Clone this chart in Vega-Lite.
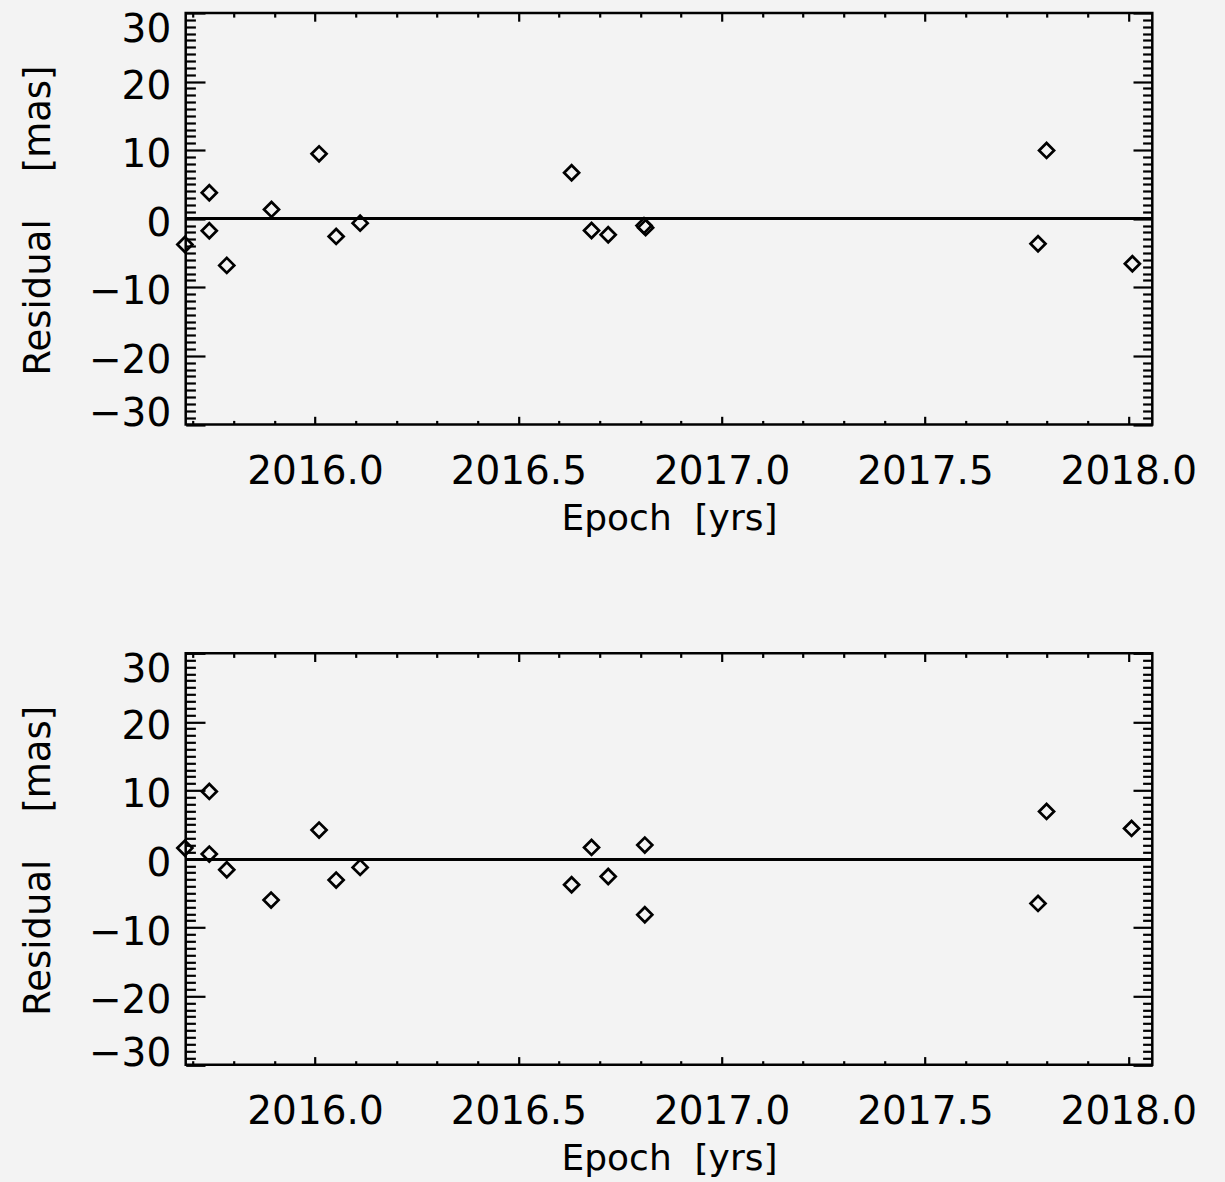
{
  "$schema": "https://vega.github.io/schema/vega-lite/v6.json",
  "background": "#f3f3f3",
  "padding": {"left": 18.7, "top": 4, "right": 40, "bottom": 30},
  "config": {
    "view": {"stroke": "#000000", "strokeWidth": 2.5},
    "font": "DejaVu Sans"
  },
  "data": {
    "values": [
      {"panel": "upper", "epoch": 2015.680, "residual": -3.75},
      {"panel": "upper", "epoch": 2015.740, "residual": 3.79},
      {"panel": "upper", "epoch": 2015.740, "residual": -1.75},
      {"panel": "upper", "epoch": 2015.783, "residual": -6.8},
      {"panel": "upper", "epoch": 2015.893, "residual": 1.36},
      {"panel": "upper", "epoch": 2016.010, "residual": 9.47},
      {"panel": "upper", "epoch": 2016.052, "residual": -2.58},
      {"panel": "upper", "epoch": 2016.111, "residual": -0.64},
      {"panel": "upper", "epoch": 2016.631, "residual": 6.71},
      {"panel": "upper", "epoch": 2016.680, "residual": -1.71},
      {"panel": "upper", "epoch": 2016.721, "residual": -2.33},
      {"panel": "upper", "epoch": 2016.809, "residual": -1.0},
      {"panel": "upper", "epoch": 2016.813, "residual": -1.3},
      {"panel": "upper", "epoch": 2017.778, "residual": -3.65},
      {"panel": "upper", "epoch": 2017.799, "residual": 9.96},
      {"panel": "upper", "epoch": 2018.010, "residual": -6.56},
      {"panel": "lower", "epoch": 2015.680, "residual": 1.6},
      {"panel": "lower", "epoch": 2015.740, "residual": 9.86},
      {"panel": "lower", "epoch": 2015.740, "residual": 0.73},
      {"panel": "lower", "epoch": 2015.783, "residual": -1.56},
      {"panel": "lower", "epoch": 2015.892, "residual": -5.98},
      {"panel": "lower", "epoch": 2016.010, "residual": 4.23},
      {"panel": "lower", "epoch": 2016.052, "residual": -3.06},
      {"panel": "lower", "epoch": 2016.111, "residual": -1.22},
      {"panel": "lower", "epoch": 2016.631, "residual": -3.75},
      {"panel": "lower", "epoch": 2016.680, "residual": 1.69},
      {"panel": "lower", "epoch": 2016.721, "residual": -2.54},
      {"panel": "lower", "epoch": 2016.811, "residual": 2.04},
      {"panel": "lower", "epoch": 2016.811, "residual": -8.12},
      {"panel": "lower", "epoch": 2017.778, "residual": -6.47},
      {"panel": "lower", "epoch": 2017.799, "residual": 6.94},
      {"panel": "lower", "epoch": 2018.008, "residual": 4.46}
    ]
  },
  "bounds": "flush",
  "spacing": 228.3,
  "vconcat": [
    {
      "width": 966.6,
      "height": 411.5,
      "transform": [{"filter": "datum.panel === 'upper'"}],
      "resolve": {"axis": {"x": "independent", "y": "independent"}},
      "layer": [
        {
          "mark": {"type": "point", "shape": "diamond", "filled": false, "stroke": "#000000", "strokeWidth": 2.7, "size": 225, "opacity": 1},
          "encoding": {
            "x": {
              "field": "epoch", "type": "quantitative",
              "scale": {"domain": [2015.682, 2018.059], "nice": false, "zero": false},
              "axis": {
                "orient": "bottom",
                "title": "Epoch\u00a0\u00a0[yrs]",
                "values": [2015.7, 2015.8, 2015.9, 2016.0, 2016.1, 2016.2, 2016.3, 2016.4, 2016.5, 2016.6, 2016.7, 2016.8, 2016.9, 2017.0, 2017.1, 2017.2, 2017.3, 2017.4, 2017.5, 2017.6, 2017.7, 2017.8, 2017.9, 2018.0],
                "format": ".1f",
                "labelExpr": "abs(datum.value * 2 - round(datum.value * 2)) < 0.01 ? datum.label : ''",
                "tickSize": {"condition": {"test": "abs(datum.value * 2 - round(datum.value * 2)) < 0.01", "value": -8.2}, "value": -4.1},
                "tickColor": "#000000", "tickWidth": 2.2,
                "domain": false, "grid": false,
                "labelPadding": 66.9, "labelBaseline": "alphabetic", "labelFlush": false, "labelOverlap": false, "labelBound": false,
                "labelFont": "DejaVu Sans", "labelFontSize": 39, "labelColor": "#000000",
                "titleFont": "DejaVu Sans", "titleFontSize": 36, "titleFontWeight": "normal", "titleColor": "#000000",
                "titleX": 483.3, "titleY": 105, "titleBaseline": "alphabetic", "titleAlign": "center", "titleAngle": 0
              }
            },
            "y": {
              "field": "residual", "type": "quantitative",
              "scale": {"domain": [-30, 30], "nice": false, "zero": false},
              "axis": {
                "orient": "left",
                "title": "Residual\u00a0\u00a0\u00a0\u00a0[mas]",
                "values": [-30, -29, -28, -27, -26, -25, -24, -23, -22, -21, -20, -19, -18, -17, -16, -15, -14, -13, -12, -11, -10, -9, -8, -7, -6, -5, -4, -3, -2, -1, 0, 1, 2, 3, 4, 5, 6, 7, 8, 9, 10, 11, 12, 13, 14, 15, 16, 17, 18, 19, 20, 21, 22, 23, 24, 25, 26, 27, 28, 29, 30],
                "labelExpr": "datum.value % 10 === 0 ? datum.label : ''",
                "tickSize": {"condition": {"test": "datum.value % 10 === 0", "value": -19.3}, "value": -9.7},
                "tickColor": "#000000", "tickWidth": 2.2,
                "domain": false, "grid": false,
                "labelPadding": 34.3, "labelFlush": true, "labelOverlap": false, "labelBound": false,
                "labelOffset": {"condition": [{"test": "datum.value === 30", "value": -3}, {"test": "datum.value === -30", "value": 9}], "value": 4.5},
                "labelFont": "DejaVu Sans", "labelFontSize": 39, "labelColor": "#000000",
                "titleFont": "DejaVu Sans", "titleFontSize": 37, "titleFontWeight": "normal", "titleColor": "#000000",
                "titleX": -135.7, "titleY": 207, "titleBaseline": "alphabetic", "titleAlign": "center", "titleAngle": -90
              }
            }
          }
        },
        {
          "mark": {"type": "rule", "stroke": "#000000", "strokeWidth": 2.3},
          "encoding": {
            "x": {
              "datum": 2015.682, "type": "quantitative",
              "axis": {
                "orient": "top", "title": null, "labels": false, "domain": false, "grid": false,
                "values": [2015.7, 2015.8, 2015.9, 2016.0, 2016.1, 2016.2, 2016.3, 2016.4, 2016.5, 2016.6, 2016.7, 2016.8, 2016.9, 2017.0, 2017.1, 2017.2, 2017.3, 2017.4, 2017.5, 2017.6, 2017.7, 2017.8, 2017.9, 2018.0],
                "tickSize": {"condition": {"test": "abs(datum.value * 2 - round(datum.value * 2)) < 0.01", "value": -8.2}, "value": -4.1},
                "tickColor": "#000000", "tickWidth": 2.2
              }
            },
            "x2": {"datum": 2018.059},
            "y": {
              "datum": 0, "type": "quantitative",
              "axis": {
                "orient": "right", "title": null, "labels": false, "domain": false, "grid": false,
                "values": [-30, -29, -28, -27, -26, -25, -24, -23, -22, -21, -20, -19, -18, -17, -16, -15, -14, -13, -12, -11, -10, -9, -8, -7, -6, -5, -4, -3, -2, -1, 0, 1, 2, 3, 4, 5, 6, 7, 8, 9, 10, 11, 12, 13, 14, 15, 16, 17, 18, 19, 20, 21, 22, 23, 24, 25, 26, 27, 28, 29, 30],
                "tickSize": {"condition": {"test": "datum.value % 10 === 0", "value": -19.3}, "value": -9.7},
                "tickColor": "#000000", "tickWidth": 2.2
              }
            }
          }
        }
      ]
    },
    {
      "width": 966.6,
      "height": 411.5,
      "transform": [{"filter": "datum.panel === 'lower'"}],
      "resolve": {"axis": {"x": "independent", "y": "independent"}},
      "layer": [
        {
          "mark": {"type": "point", "shape": "diamond", "filled": false, "stroke": "#000000", "strokeWidth": 2.7, "size": 225, "opacity": 1},
          "encoding": {
            "x": {
              "field": "epoch", "type": "quantitative",
              "scale": {"domain": [2015.682, 2018.059], "nice": false, "zero": false},
              "axis": {
                "orient": "bottom",
                "title": "Epoch\u00a0\u00a0[yrs]",
                "values": [2015.7, 2015.8, 2015.9, 2016.0, 2016.1, 2016.2, 2016.3, 2016.4, 2016.5, 2016.6, 2016.7, 2016.8, 2016.9, 2017.0, 2017.1, 2017.2, 2017.3, 2017.4, 2017.5, 2017.6, 2017.7, 2017.8, 2017.9, 2018.0],
                "format": ".1f",
                "labelExpr": "abs(datum.value * 2 - round(datum.value * 2)) < 0.01 ? datum.label : ''",
                "tickSize": {"condition": {"test": "abs(datum.value * 2 - round(datum.value * 2)) < 0.01", "value": -8.2}, "value": -4.1},
                "tickColor": "#000000", "tickWidth": 2.2,
                "domain": false, "grid": false,
                "labelPadding": 66.9, "labelBaseline": "alphabetic", "labelFlush": false, "labelOverlap": false, "labelBound": false,
                "labelFont": "DejaVu Sans", "labelFontSize": 39, "labelColor": "#000000",
                "titleFont": "DejaVu Sans", "titleFontSize": 36, "titleFontWeight": "normal", "titleColor": "#000000",
                "titleX": 483.3, "titleY": 105, "titleBaseline": "alphabetic", "titleAlign": "center", "titleAngle": 0
              }
            },
            "y": {
              "field": "residual", "type": "quantitative",
              "scale": {"domain": [-30, 30], "nice": false, "zero": false},
              "axis": {
                "orient": "left",
                "title": "Residual\u00a0\u00a0\u00a0\u00a0[mas]",
                "values": [-30, -29, -28, -27, -26, -25, -24, -23, -22, -21, -20, -19, -18, -17, -16, -15, -14, -13, -12, -11, -10, -9, -8, -7, -6, -5, -4, -3, -2, -1, 0, 1, 2, 3, 4, 5, 6, 7, 8, 9, 10, 11, 12, 13, 14, 15, 16, 17, 18, 19, 20, 21, 22, 23, 24, 25, 26, 27, 28, 29, 30],
                "labelExpr": "datum.value % 10 === 0 ? datum.label : ''",
                "tickSize": {"condition": {"test": "datum.value % 10 === 0", "value": -19.3}, "value": -9.7},
                "tickColor": "#000000", "tickWidth": 2.2,
                "domain": false, "grid": false,
                "labelPadding": 34.3, "labelFlush": true, "labelOverlap": false, "labelBound": false,
                "labelOffset": {"condition": [{"test": "datum.value === 30", "value": -3}, {"test": "datum.value === -30", "value": 9}], "value": 4.5},
                "labelFont": "DejaVu Sans", "labelFontSize": 39, "labelColor": "#000000",
                "titleFont": "DejaVu Sans", "titleFontSize": 37, "titleFontWeight": "normal", "titleColor": "#000000",
                "titleX": -135.7, "titleY": 207, "titleBaseline": "alphabetic", "titleAlign": "center", "titleAngle": -90
              }
            }
          }
        },
        {
          "mark": {"type": "rule", "stroke": "#000000", "strokeWidth": 2.3},
          "encoding": {
            "x": {
              "datum": 2015.682, "type": "quantitative",
              "axis": {
                "orient": "top", "title": null, "labels": false, "domain": false, "grid": false,
                "values": [2015.7, 2015.8, 2015.9, 2016.0, 2016.1, 2016.2, 2016.3, 2016.4, 2016.5, 2016.6, 2016.7, 2016.8, 2016.9, 2017.0, 2017.1, 2017.2, 2017.3, 2017.4, 2017.5, 2017.6, 2017.7, 2017.8, 2017.9, 2018.0],
                "tickSize": {"condition": {"test": "abs(datum.value * 2 - round(datum.value * 2)) < 0.01", "value": -8.2}, "value": -4.1},
                "tickColor": "#000000", "tickWidth": 2.2
              }
            },
            "x2": {"datum": 2018.059},
            "y": {
              "datum": 0, "type": "quantitative",
              "axis": {
                "orient": "right", "title": null, "labels": false, "domain": false, "grid": false,
                "values": [-30, -29, -28, -27, -26, -25, -24, -23, -22, -21, -20, -19, -18, -17, -16, -15, -14, -13, -12, -11, -10, -9, -8, -7, -6, -5, -4, -3, -2, -1, 0, 1, 2, 3, 4, 5, 6, 7, 8, 9, 10, 11, 12, 13, 14, 15, 16, 17, 18, 19, 20, 21, 22, 23, 24, 25, 26, 27, 28, 29, 30],
                "tickSize": {"condition": {"test": "datum.value % 10 === 0", "value": -19.3}, "value": -9.7},
                "tickColor": "#000000", "tickWidth": 2.2
              }
            }
          }
        }
      ]
    }
  ]
}
